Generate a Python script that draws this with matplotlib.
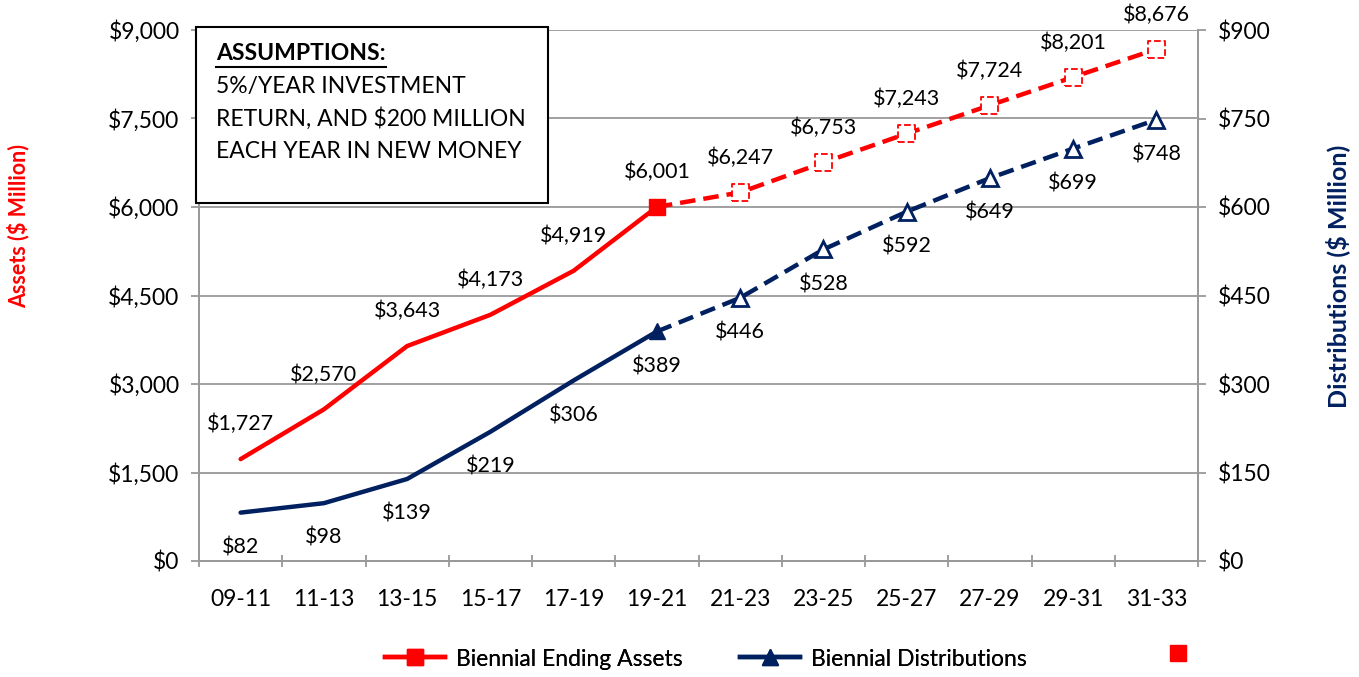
import matplotlib
matplotlib.use("Agg")
import matplotlib.pyplot as plt
from matplotlib.lines import Line2D
from matplotlib.patches import Rectangle
import numpy as np

categories = ["09-11", "11-13", "13-15", "15-17", "17-19", "19-21",
              "21-23", "23-25", "25-27", "27-29", "29-31", "31-33"]
assets = [1727, 2570, 3643, 4173, 4919, 6001, 6247, 6753, 7243, 7724, 8201, 8676]
distributions = [82, 98, 139, 219, 306, 389, 446, 528, 592, 649, 699, 748]
asset_labels = ["$1,727", "$2,570", "$3,643", "$4,173", "$4,919", "$6,001",
                "$6,247", "$6,753", "$7,243", "$7,724", "$8,201", "$8,676"]
dist_labels = ["$82", "$98", "$139", "$219", "$306", "$389",
               "$446", "$528", "$592", "$649", "$699", "$748"]
left_ticks = [0, 1500, 3000, 4500, 6000, 7500, 9000]
left_ticklabels = ["$0", "$1,500", "$3,000", "$4,500", "$6,000", "$7,500", "$9,000"]
right_ticks = [0, 150, 300, 450, 600, 750, 900]
right_ticklabels = ["$0", "$150", "$300", "$450", "$600", "$750", "$900"]
split = 5  # index of last actual value (19-21)

RED = "#FF0000"
NAVY = "#002060"
GRID = "#999999"
FONT = "Lato"
FS = 16.5
FS_LAB = 15.5

plt.rcParams['font.family'] = [FONT, 'DejaVu Sans']

W, H = 1359, 677
fig = plt.figure(figsize=(W / 100, H / 100), dpi=100)
ax = fig.add_axes([199 / W, 1 - 561 / H, (1198 - 199) / W, (561 - 30) / H])
ax2 = ax.twinx()

x = np.arange(len(categories))

ax.set_ylim(0, 9000)
ax.set_xlim(-0.5, len(categories) - 0.5)
ax.set_yticks(left_ticks)
ax.set_yticklabels(left_ticklabels, fontsize=FS)
ax.yaxis.grid(True, color=GRID, lw=1.3)
ax.set_axisbelow(True)
ax.set_xticks(x)
ax.set_xticklabels(categories, fontsize=FS)
ax.set_xticks(np.arange(-0.5, len(categories), 1), minor=True)
ax.tick_params(axis='x', which='major', length=0, pad=20)
ax.tick_params(axis='x', which='minor', length=9, direction='inout', color=GRID, width=1.3)
ax.tick_params(axis='y', length=6, color=GRID, width=1.3, pad=8)

ax2.set_ylim(0, 900)
ax2.set_yticks(right_ticks)
ax2.set_yticklabels(right_ticklabels, fontsize=FS)
ax2.tick_params(axis='y', length=6, color=GRID, width=1.3, pad=8)

for a in (ax, ax2):
    for s in a.spines.values():
        s.set_color(GRID)
        s.set_linewidth(1.3)
    a.spines['top'].set_visible(False)

LW = 3.2
DASH = (0, (3.5, 1.8))

# Assets (left axis)
ax.plot(x[:split + 1], assets[:split + 1], color=RED, lw=LW, zorder=3, solid_capstyle='round')
ax.plot(x[split:], assets[split:], color=RED, lw=LW, ls=DASH, zorder=3)
ax.plot(x[split], assets[split], marker='s', ms=11, color=RED, mec=RED, zorder=5, ls='none')
ax.scatter(x[split + 1:], assets[split + 1:], marker='s', s=150, facecolors='white',
           edgecolors=RED, linewidths=1.3, linestyles='--', zorder=5)

# Distributions (right axis)
ax2.plot(x[:split + 1], distributions[:split + 1], color=NAVY, lw=LW, zorder=3, solid_capstyle='round')
ax2.plot(x[split:], distributions[split:], color=NAVY, lw=LW, ls=DASH, zorder=3)
ax2.plot(x[split], distributions[split], marker='^', ms=12, color=NAVY, mec=NAVY, zorder=5, ls='none')
ax2.plot(x[split + 1:], distributions[split + 1:], marker='^', ms=12, mfc='white', mec=NAVY,
         mew=2, ls='none', zorder=5)

for xi, v, lab in zip(x, assets, asset_labels):
    ax.annotate(lab, (xi, v), xytext=(0, 25), textcoords='offset points',
                ha='center', va='center', fontsize=FS_LAB, zorder=6)
for xi, v, lab in zip(x, distributions, dist_labels):
    ax2.annotate(lab, (xi, v), xytext=(0, -25), textcoords='offset points',
                 ha='center', va='center', fontsize=FS_LAB, zorder=6)

# axis titles
fig.text(18 / W, 1 - 226 / H, "Assets ($ Million)", rotation=90, color=RED,
         fontsize=15.5, fontweight='bold', ha='center', va='center')
fig.text(1338 / W, 1 - 276 / H, "Distributions ($ Million)", rotation=90, color=NAVY,
         fontsize=18, fontweight='bold', ha='center', va='center')


def fx(px):
    return px / W


def fy(py):
    return 1 - py / H


# assumptions box
box = Rectangle((fx(196), fy(203)), fx(548) - fx(196), fy(27) - fy(203),
                transform=fig.transFigure, facecolor='white', edgecolor='black',
                lw=1.5, zorder=10)
fig.patches.append(box)
fig.text(fx(216), fy(53), "ASSUMPTIONS:", fontsize=FS, fontweight='bold',
         ha='left', va='center', zorder=11)
fig.add_artist(Line2D([fx(216), fx(386)], [fy(67), fy(67)], color='black', lw=1.5,
                      transform=fig.transFigure, zorder=11))
box_lines = ["5%/YEAR INVESTMENT", "RETURN, AND $200 MILLION", "EACH YEAR IN NEW MONEY"]
for i, t in enumerate(box_lines):
    fig.text(fx(216), fy(87 + 32 * i), t, fontsize=FS, ha='left', va='center', zorder=11)

# legend
h1 = Line2D([], [], color=RED, lw=LW, marker='s', ms=11)
h2 = Line2D([], [], color=NAVY, lw=LW, marker='^', ms=12)
h3 = Line2D([], [], color='none', marker='s', ms=11, mfc=RED, mec=RED)
leg = fig.legend([h1, h2], ["Biennial Ending Assets", "Biennial Distributions"],
                 loc='center', bbox_to_anchor=(fx(706), fy(659)), ncol=2, frameon=False,
                 fontsize=FS, handlelength=2.6, columnspacing=2.5, handletextpad=0.5)
fig.add_artist(leg)
fig.legend([h3], [""], loc='center', bbox_to_anchor=(fx(1178), fy(655)), frameon=False,
           fontsize=FS, handlelength=1.0, handletextpad=0)

fig.savefig("out.png", dpi=100)
